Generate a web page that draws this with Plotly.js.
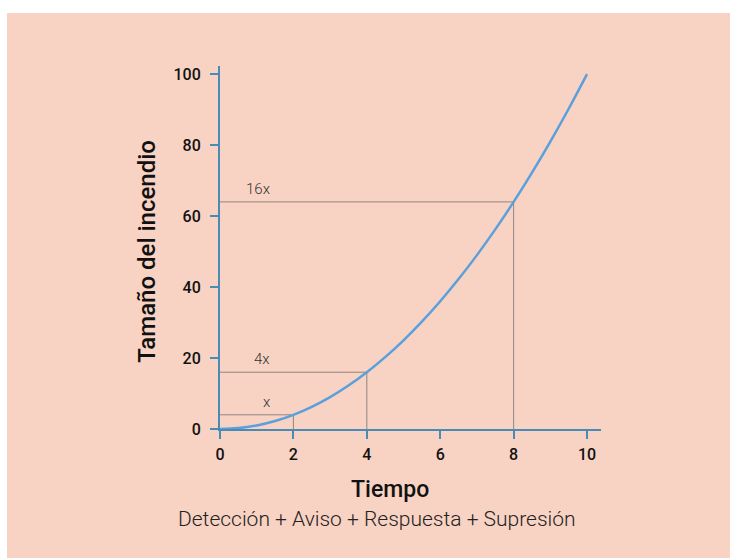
<!DOCTYPE html>
<html>
<head>
<meta charset="utf-8">
<script src="https://cdn.plot.ly/plotly-3.0.1.min.js"></script>
<style>
  html, body { margin: 0; padding: 0; background: #ffffff; }
  #bg { position: absolute; left: 7px; top: 13px; width: 723px; height: 545px; background: #f8d3c3; }
  #chart { position: absolute; left: 0; top: 0; width: 730px; height: 559px; }
</style>
</head>
<body>
<div id="bg"></div>
<div id="chart"></div>
<script>
// Data
const timeValues = [0, 0.5, 1, 1.5, 2, 2.5, 3, 3.5, 4, 4.5, 5, 5.5, 6, 6.5, 7, 7.5, 8, 8.5, 9, 9.5, 10];
const sizeValues = [0, 0.25, 1, 2.25, 4, 6.25, 9, 12.25, 16, 20.25, 25, 30.25, 36, 42.25, 49, 56.25, 64, 72.25, 81, 90.25, 100];
const refTimes = [2, 4, 8];
const refSizes = [4, 16, 64];
const refLabels = ['x', '4x', '16x'];
const xTickVals = [0, 2, 4, 6, 8, 10];
const yTickVals = [0, 20, 40, 60, 80, 100];
const xTitle = 'Tiempo';
const xSubtitle = 'Detección + Aviso + Respuesta + Supresión';
const yTitle = 'Tamaño del incendio';

const axisColor = '#4a8bb6';
const curveColor = '#5b9fdc';
const refColor = 'rgba(100,100,100,0.7)';

const traces = [];
refTimes.forEach((t, i) => {
  traces.push({
    x: [0, t, t],
    y: [refSizes[i], refSizes[i], 0],
    mode: 'lines',
    line: { color: refColor, width: 1 },
    hoverinfo: 'skip',
    showlegend: false
  });
});
traces.push({
  x: timeValues,
  y: sizeValues,
  mode: 'lines',
  line: { color: curveColor, width: 2.5, shape: 'spline' },
  showlegend: false
});

const annotations = refTimes.map((t, i) => ({
  x: 1.42, y: refSizes[i], xref: 'x', yref: 'y',
  text: refLabels[i], showarrow: false,
  xanchor: 'right', yanchor: 'bottom', yshift: 2,
  font: { family: 'Roboto', size: 15, color: '#333333', weight: 300 }
}));
annotations.push({
  x: 0.446, y: -0.168, xref: 'paper', yref: 'paper', text: xTitle, showarrow: false,
  xanchor: 'center', yanchor: 'middle',
  font: { family: 'Roboto', size: 23, color: '#111111', weight: 500 }
});
annotations.push({
  x: 0.411, y: -0.248, xref: 'paper', yref: 'paper', text: xSubtitle, showarrow: false,
  xanchor: 'center', yanchor: 'middle',
  font: { family: 'Roboto', size: 21, color: '#222222', weight: 300 }
});
annotations.push({
  x: -0.19, y: 0.49, xref: 'paper', yref: 'paper', text: yTitle, showarrow: false,
  textangle: -90, xanchor: 'center', yanchor: 'middle',
  font: { family: 'Roboto', size: 24, color: '#111111', weight: 500 }
});

const tickFont = { family: 'Roboto', size: 16, color: '#111111', weight: 500 };

const layout = {
  width: 730, height: 559,
  margin: { l: 220, r: 129, t: 66, b: 130 },
  paper_bgcolor: 'rgba(0,0,0,0)',
  plot_bgcolor: 'rgba(0,0,0,0)',
  xaxis: {
    range: [0, 10.38], tickvals: xTickVals, ticktext: xTickVals.map(String),
    showgrid: false, zeroline: false, showline: true, linecolor: axisColor, linewidth: 2,
    ticks: 'outside', ticklen: 8, tickwidth: 2, tickcolor: axisColor,
    tickfont: tickFont, ticklabelstandoff: 2
  },
  yaxis: {
    range: [0, 102.3], tickvals: yTickVals, ticktext: yTickVals.map(String),
    showgrid: false, zeroline: false, showline: true, linecolor: axisColor, linewidth: 2,
    ticks: 'outside', ticklen: 8, tickwidth: 2, tickcolor: axisColor,
    tickfont: tickFont, ticklabelstandoff: 6
  },
  annotations: annotations,
  showlegend: false
};

Plotly.newPlot('chart', traces, layout, { displayModeBar: false, staticPlot: true });
</script>
</body>
</html>
